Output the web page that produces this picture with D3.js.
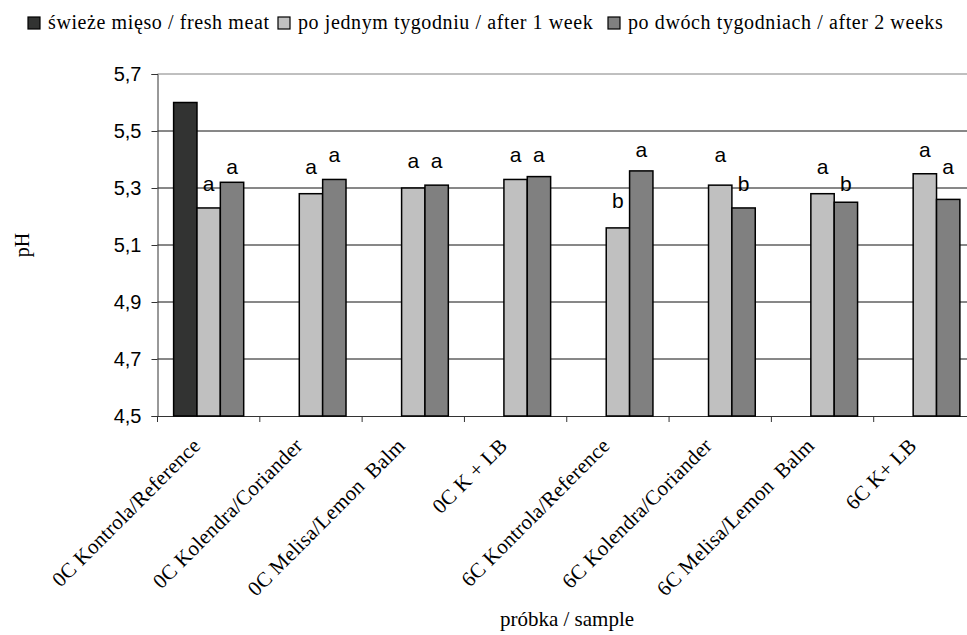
<!DOCTYPE html>
<html><head><meta charset="utf-8">
<script src="https://cdn.jsdelivr.net/npm/d3@7"></script>
<style>
body{margin:0;background:#fff;}
text{white-space:pre;}
</style>
</head><body>
<svg id="chart" width="967" height="635"></svg>
<script>
const categories = ["0C Kontrola/Reference","0C Kolendra/Coriander","0C Melisa/Lemon  Balm","0C K + LB","6C Kontrola/Reference","6C Kolendra/Coriander","6C Melisa/Lemon  Balm","6C K+ LB"];
const seriesNames = ["świeże mięso / fresh meat","po jednym tygodniu / after 1 week","po dwóch tygodniach / after 2 weeks"];
const freshMeat = [5.60, null, null, null, null, null, null, null];
const after1Week = [5.23, 5.28, 5.30, 5.33, 5.16, 5.31, 5.28, 5.35];
const after2Weeks = [5.32, 5.33, 5.31, 5.34, 5.36, 5.23, 5.25, 5.26];
const letters1Week = ["a","a","a","a","b","a","a","a"];
const letters2Weeks = ["a","a","a","a","a","b","b","a"];
const letterLevel1Week = [5.29, 5.35, 5.37, 5.39, 5.23, 5.39, 5.35, 5.41];
const letterLevel2Weeks = [5.35, 5.39, 5.37, 5.39, 5.41, 5.29, 5.29, 5.35];
const yTicks = [4.5, 4.7, 4.9, 5.1, 5.3, 5.5, 5.7];
const yTitle = "pH";
const xTitle = "próbka / sample";

const colors = ["#323332", "#c0c0c0", "#808080"];
const serif = "'Liberation Serif', 'Times New Roman', serif";
const sans = "'Liberation Sans', Arial, sans-serif";
const svg = d3.select("#chart");
const pLeft = 157.5, pRight = 976, pTop = 74, pBottom = 416;

const x0 = d3.scaleBand().domain(categories).range([pLeft, pRight]).paddingInner(0).paddingOuter(0);
const x1 = d3.scaleBand().domain([0,1,2]).range([0, x0.bandwidth()]).paddingInner(0).paddingOuter(0.69);
const y = d3.scaleLinear().domain([4.5, 5.7]).range([pBottom, pTop]);

// gridlines
svg.append("g").selectAll("line").data(yTicks.filter(t => t > 4.5)).join("line")
  .attr("x1", pLeft).attr("x2", pRight)
  .attr("y1", d => y(d)).attr("y2", d => y(d))
  .attr("stroke", d => d === 5.7 ? "#808080" : "#111").attr("stroke-width", 1);

// y axis
const yAxis = svg.append("g").attr("transform", `translate(${pLeft},0)`)
  .call(d3.axisLeft(y).tickValues(yTicks).tickSize(6).tickPadding(10)
    .tickFormat(d => d3.format(".1f")(d).replace(".", ",")));
yAxis.select(".domain").attr("stroke", "#333");
yAxis.selectAll(".tick line").attr("stroke", "#333");
yAxis.selectAll("text").attr("font-family", sans).attr("font-size", 20).attr("fill", "#000");

// x axis
const xAxis = svg.append("g").attr("transform", `translate(0,${pBottom})`)
  .call(d3.axisBottom(x0).tickSize(0).tickFormat(""));
xAxis.select(".domain").attr("stroke", "#333");
xAxis.selectAll(".tick").remove();
const boundaries = categories.map(c => x0(c));
xAxis.selectAll("line.bt").data(boundaries).join("line").attr("class","bt")
  .attr("x1", d => d).attr("x2", d => d).attr("y1", 0).attr("y2", 6).attr("stroke", "#333");

// bars
const series = [freshMeat, after1Week, after2Weeks];
series.forEach((vals, si) => {
  svg.append("g").selectAll("rect").data(vals.map((v, i) => ({v, i})).filter(d => d.v != null)).join("rect")
    .attr("x", d => x0(categories[d.i]) + x1(si))
    .attr("width", x1.bandwidth())
    .attr("y", d => y(d.v))
    .attr("height", d => pBottom - y(d.v))
    .attr("fill", colors[si]).attr("stroke", "#000").attr("stroke-width", 1.5);
});

// significance letters
[[letters1Week, letterLevel1Week, 1], [letters2Weeks, letterLevel2Weeks, 2]].forEach(([ls, lv, si]) => {
  svg.append("g").selectAll("text").data(ls.map((l, i) => ({l, i, v: lv[i]}))).join("text")
    .attr("x", d => x0(categories[d.i]) + x1(si) + x1.bandwidth() / 2)
    .attr("y", d => y(d.v))
    .attr("text-anchor", "middle")
    .attr("font-family", sans).attr("font-size", 21)
    .text(d => d.l);
});

// category labels
svg.append("g").selectAll("text").data(categories).join("text")
  .attr("transform", d => `translate(${x0(d) + x0.bandwidth() / 2 - 7},${pBottom + 31}) rotate(-45)`)
  .attr("text-anchor", "end")
  .attr("font-family", serif).attr("font-size", 21).attr("letter-spacing", 0.2)
  .text(d => d);

// axis titles
svg.append("text").attr("transform", `translate(29,${(pTop + pBottom) / 2}) rotate(-90)`)
  .attr("text-anchor", "middle").attr("font-family", serif).attr("font-size", 20)
  .text(yTitle);
svg.append("text").attr("x", 567).attr("y", 626)
  .attr("text-anchor", "middle").attr("font-family", serif).attr("font-size", 21)
  .text(xTitle);

// legend
const legendX = [28, 278, 608];
const lg = svg.append("g").selectAll("g").data(seriesNames).join("g")
  .attr("transform", (d, i) => `translate(${legendX[i]},0)`);
lg.append("rect").attr("x", 0).attr("y", 17).attr("width", 12).attr("height", 12)
  .attr("fill", (d, i) => colors[i]).attr("stroke", "#000").attr("stroke-width", 1.2);
lg.append("text").attr("x", 20).attr("y", 29)
  .attr("font-family", serif).attr("font-size", 20).attr("letter-spacing", 0.6)
  .text(d => d);
</script>
</body></html>
